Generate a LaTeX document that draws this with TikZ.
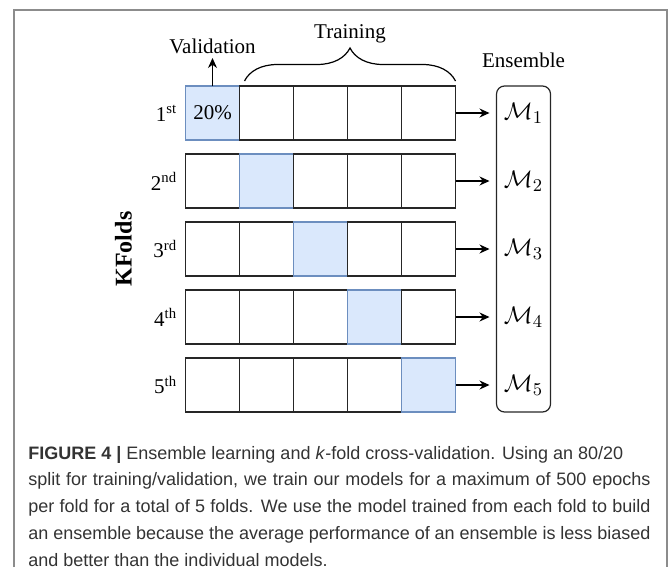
\documentclass[tikz,border=0pt]{standalone}
\usepackage{fontspec}
\setmainfont{Liberation Serif}
\newfontfamily\capfont{Liberation Sans}
\usetikzlibrary{arrows.meta, positioning, decorations.pathreplacing, calc}
\definecolor{valfill}{HTML}{DAE8FC}
\definecolor{valdraw}{HTML}{6C8EBF}
\definecolor{framegray}{HTML}{8C8C8C}
\definecolor{capgray}{HTML}{333333}
\tikzstyle{fold} = [rectangle, minimum width=27pt, minimum height=27pt, inner sep=0pt, outer sep=0pt, draw=black!85, line width=0.6pt, fill=white]
\tikzstyle{val} = [fold, draw=valdraw, fill=valfill]
\tikzstyle{ensbox} = [rectangle, rounded corners=4pt, minimum width=27pt, minimum height=163pt, inner sep=0pt, outer sep=0pt, draw=black!85, line width=0.6pt]
\tikzstyle{model} = [font=\fontsize{13}{15}\selectfont]
\tikzstyle{rowlabel} = [left=4pt of #1, inner sep=0pt]
\tikzstyle{arrow} = [line width=0.6pt, -{Stealth[length=5pt, width=4.5pt]}]
\tikzstyle{brace} = [line width=0.6pt, decorate, decoration={brace, amplitude=16.5pt}]
\tikzstyle{frame} = [draw=framegray, line width=0.8pt]
\tikzstyle{caption} = [anchor=base west, inner sep=0pt, text width=311pt, align=justify, text=capgray, font=\capfont\fontsize{9}{13.4}\selectfont]

\begin{document}
\begin{tikzpicture}[
        x=0.5pt, y=-0.5pt,
        node distance=7pt and 0pt,
        font=\fontsize{10.5}{12.6}\selectfont
    ]
        \useasboundingbox (0,0) rectangle (672,567);

        % Frame (open at the bottom)
        \coordinate (fbl) at (14,567);
        \coordinate (ftl) at (14,10);
        \coordinate (ftr) at (667,10);
        \coordinate (fbr) at (667,567);
        \draw [frame] (fbl) -- (ftl) -- (ftr) -- (fbr);

        % Fold 1
        \node (r1c1) [val] at (212.5,113) {20\%};
        \node (r1c2) [fold, right=of r1c1] {};
        \node (r1c3) [fold, right=of r1c2] {};
        \node (r1c4) [fold, right=of r1c3] {};
        \node (r1c5) [fold, right=of r1c4] {};

        % Fold 2
        \node (r2c1) [fold, below=of r1c1] {};
        \node (r2c2) [val, right=of r2c1] {};
        \node (r2c3) [fold, right=of r2c2] {};
        \node (r2c4) [fold, right=of r2c3] {};
        \node (r2c5) [fold, right=of r2c4] {};

        % Fold 3
        \node (r3c1) [fold, below=of r2c1] {};
        \node (r3c2) [fold, right=of r3c1] {};
        \node (r3c3) [val, right=of r3c2] {};
        \node (r3c4) [fold, right=of r3c3] {};
        \node (r3c5) [fold, right=of r3c4] {};

        % Fold 4
        \node (r4c1) [fold, below=of r3c1] {};
        \node (r4c2) [fold, right=of r4c1] {};
        \node (r4c3) [fold, right=of r4c2] {};
        \node (r4c4) [val, right=of r4c3] {};
        \node (r4c5) [fold, right=of r4c4] {};

        % Fold 5
        \node (r5c1) [fold, below=of r4c1] {};
        \node (r5c2) [fold, right=of r5c1] {};
        \node (r5c3) [fold, right=of r5c2] {};
        \node (r5c4) [fold, right=of r5c3] {};
        \node (r5c5) [val, right=of r5c4] {};

        % Row labels
        \node (lab1) [rowlabel=r1c1] {1\textsuperscript{st}};
        \node (lab2) [rowlabel=r2c1] {2\textsuperscript{nd}};
        \node (lab3) [rowlabel=r3c1] {3\textsuperscript{rd}};
        \node (lab4) [rowlabel=r4c1] {4\textsuperscript{th}};
        \node (lab5) [rowlabel=r5c1] {5\textsuperscript{th}};
        \node (kfolds) [rotate=90, font=\bfseries\fontsize{12}{14}\selectfont] at ([xshift=-31pt]r3c1.west) {KFolds};

        % Validation
        \coordinate (vtip) at ([yshift=14pt]r1c1.north);
        \draw [arrow] (r1c1.north) -- (vtip);
        \node (valtxt) [anchor=base, yshift=2pt] at (vtip) {Validation};

        % Training
        \coordinate (bl) at ([shift={(2.5pt,2.5pt)}]r1c2.north west);
        \coordinate (br) at ([yshift=2.5pt]r1c5.north east);
        \draw [brace] (bl) -- (br);
        \node (train) [anchor=base, yshift=21pt] at ($(bl)!0.5!(br)$) {Training};

        % Ensemble
        \node (ens) [ensbox, right=20.5pt of r1c5.north east, anchor=north west] {};
        \node (enstxt) [anchor=base, yshift=9pt] at (ens.north) {Ensemble};
        \node (m1) [model] at (ens |- r1c5) {$\mathcal{M}_1$};
        \node (m2) [model] at (ens |- r2c5) {$\mathcal{M}_2$};
        \node (m3) [model] at (ens |- r3c5) {$\mathcal{M}_3$};
        \node (m4) [model] at (ens |- r4c5) {$\mathcal{M}_4$};
        \node (m5) [model] at (ens |- r5c5) {$\mathcal{M}_5$};

        % Arrows: folds -> models
        \draw [arrow, shorten >=3.5pt] (r1c5.east) -- (ens.west |- r1c5);
        \draw [arrow, shorten >=3.5pt] (r2c5.east) -- (ens.west |- r2c5);
        \draw [arrow, shorten >=3.5pt] (r3c5.east) -- (ens.west |- r3c5);
        \draw [arrow, shorten >=3.5pt] (r4c5.east) -- (ens.west |- r4c5);
        \draw [arrow, shorten >=3.5pt] (r5c5.east) -- (ens.west |- r5c5);

        % Caption
        \node (caption) [caption] at (28,459) {\textbf{FIGURE 4 |} Ensemble learning and \textit{k}-fold cross-validation. Using an 80/20\newline
        split for training/validation, we train our models for a maximum of 500 epochs\linebreak
        per fold for a total of 5 folds. We use the model trained from each fold to build\linebreak
        an ensemble because the average performance of an ensemble is less biased\linebreak
        and better than the individual models.};

    \end{tikzpicture}
\end{document}
